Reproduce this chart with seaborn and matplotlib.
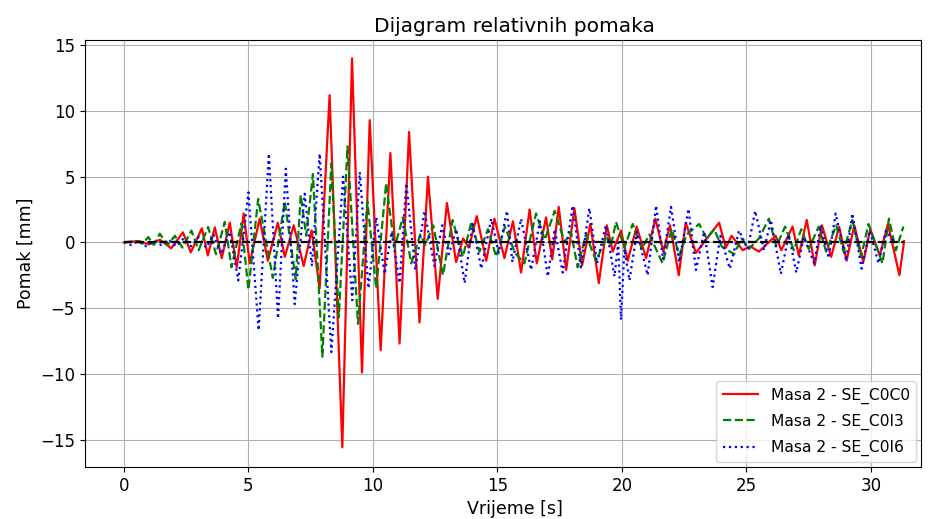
import matplotlib
matplotlib.use("Agg")
import matplotlib.pyplot as plt
import seaborn as sns
import pandas as pd

# extrema (time [s], relative displacement [mm])
red_t = [0, 0.6, 1.0, 1.45, 1.9, 2.37, 2.69, 3.13, 3.37, 3.65, 3.93, 4.25, 4.53, 4.81,
         5.05, 5.45, 5.78, 6.18, 6.46, 6.82, 7.22, 7.54, 7.86, 8.26, 8.77, 9.16, 9.56,
         9.87, 10.31, 10.70, 11.07, 11.45, 11.87, 12.21, 12.60, 12.97, 13.34, 13.62,
         13.85, 14.17, 14.55, 14.88, 15.28, 15.62, 15.95, 16.29, 16.58, 16.95, 17.2,
         17.46, 17.76, 18.09, 18.40, 18.73, 19.07, 19.39, 19.63, 19.96, 20.23, 20.59,
         20.97, 21.34, 21.66, 21.93, 22.28, 22.56, 22.97, 23.9, 24.17, 24.4, 24.85,
         25.15, 25.5, 26.17, 26.4, 26.85, 27.1, 27.42, 27.74, 28.03, 28.4, 28.72,
         29.02, 29.33, 29.69, 29.97, 30.35, 30.68, 31.14, 31.33]
red_y = [0, 0.1, -0.15, 0.2, -0.45, 0.76, -0.76, 1.07, -1.0, 1.14, -1.2, 1.5, -1.9, 2.2,
         -1.6, 1.8, -1.4, 1.5, -1.1, 1.3, -1.8, 0.9, -3.5, 11.2, -15.6, 14.0, -9.9,
         9.3, -8.2, 6.8, -7.7, 8.4, -6.1, 5.0, -4.3, 3.0, -1.5, 0.3,
         -0.4, 2.0, -1.4, 1.8, -1.2, 1.6, -2.3, 2.5, -1.6, 1.9, -1.3,
         2.7, -2.1, 2.6, -1.75, 1.4, -3.1, 1.3, -0.7, 0.9, -1.4, 1.2,
         -1.2, 1.8, -0.7, 1.3, -2.5, 1.5, -0.8, 1.5, -0.4, 0.5, -0.6,
         -0.3, -0.7, 0.5, -0.6, 1.2, -1.0, 1.7, -1.75, 1.3, -1.1, 1.2,
         -1.4, 1.3, -1.5, 1.0, -1.0, 1.4, -2.5, 0.1]

green_t = [0, 0.5, 0.75, 0.98, 1.2, 1.44, 1.75, 2.05, 2.35, 2.71, 3.0, 3.38, 3.7, 4.05,
           4.32, 4.72, 5.0, 5.39, 5.98, 6.46, 6.9, 7.1, 7.32, 7.59, 7.97, 8.33, 8.63,
           8.98, 9.4, 9.78, 10.13, 10.53, 10.87, 11.2, 11.54, 11.9, 12.1, 12.42, 12.81,
           13.2, 13.61, 13.95, 14.28, 14.62, 14.95, 15.3, 15.7, 16.08, 16.55, 16.9,
           17.3, 17.7, 17.95, 18.22, 18.55, 18.96, 19.4, 19.55, 19.76, 20.1, 20.43,
           20.8, 21.1, 21.63, 22.0, 22.3, 22.6, 23.1, 23.4, 23.7, 24.0, 24.5, 24.8,
           25.1, 25.5, 25.9, 26.2, 26.55, 26.9, 27.2, 27.5, 27.9, 28.2, 28.6, 28.9,
           29.25, 29.6, 29.9, 30.46, 30.72, 31.0, 31.3]
green_y = [0, 0.1, -0.1, 0.4, -0.2, 0.66, -0.2, 0.5, -0.4, 0.9, -0.6, 1.17, -0.9, 1.55,
           -1.9, 1.45, -3.6, 3.3, -2.7, 3.1, -2.8, 3.6, 0.5, 5.2, -8.7, 6.0, -5.7,
           7.3, -6.2, 3.1, -3.5, 4.5, -0.4, 1.9, -1.6, 0.6, -0.2, 1.3, -2.5,
           1.7, -1.1, 1.55, -0.7, 1.0, -1.1, 1.2, -0.8, -1.6, 2.2, 0.2,
           2.4, 0.0, 0.8, -1.9, 0.6, -1.4, 0.5, -0.3, 1.55, -0.4, 1.4,
           -0.5, 0.6, -1.6, 1.0, -1.0, 0.6, 1.4, 0.3, 1.0, -0.3, -0.9, 0.3,
           -0.5, 0.3, 1.8, -0.3, 1.2, -0.6, 1.0, -0.5, 1.2, -0.7, 1.3, -0.7,
           1.7, -1.1, 1.4, -1.6, 1.8, -0.6, 1.2]

blue_t = [0, 0.3, 0.6, 0.9, 1.2, 1.5, 1.8, 2.1, 2.4, 2.7, 3.0, 3.3, 3.6, 3.9, 4.25,
          4.59, 5.0, 5.41, 5.82, 6.19, 6.5, 6.86, 7.26, 7.55, 7.86, 8.33, 8.8, 9.17,
          9.47, 9.82, 10.13, 10.47, 10.75, 11.07, 11.34, 11.7, 12.07, 12.47, 12.78,
          13.05, 13.35, 13.68, 14.0, 14.35, 14.75, 15.05, 15.38, 15.6, 15.95, 16.35,
          16.7, 17.02, 17.3, 17.62, 18.02, 18.35, 18.69, 19.0, 19.35, 19.7, 19.85,
          19.96, 20.1, 20.3, 20.6, 21.03, 21.37, 21.65, 21.97, 22.3, 22.67, 22.97,
          23.3, 23.64, 23.95, 24.33, 24.7, 25.05, 25.35, 25.7, 25.98, 26.38, 26.7,
          27.0, 27.3, 27.72, 27.98, 28.3, 28.58, 29.0, 29.25, 29.62, 29.95, 30.3,
          30.6, 30.9]
blue_y = [0, -0.2, 0.1, -0.3, 0.1, -0.2, 0.2, -0.3, 0.3, -0.3, 0.4, -0.4, 0.6, -0.9, 0.8,
          -2.9, 3.8, -6.7, 6.75, -5.8, 5.6, -4.7, 3.7, -1.8, 6.75, -8.35, 5.0, -4.4,
          5.35, -3.5, 1.9, -2.4, 0.8, -3.1, 4.5, -2.1, 2.4, -1.8, 1.3,
          -0.9, 1.0, -3.1, 1.4, -2.0, 1.8, -0.8, 2.4, -1.5, 1.8, -2.1,
          1.6, -2.6, 1.0, -2.3, 2.8, -1.9, 2.6, -1.6, 1.3, -2.6, 0.0,
          -5.9, -0.5, -2.9, 0.8, -2.5, 2.8, -1.3, 2.7, -1.5, 2.55, -2.1,
          0.8, -3.4, 0.5, -2.0, 0.9, -0.5, 2.4, -0.6, 1.7, -2.4, 0.6,
          -2.3, 0.4, -1.6, 1.3, -1.2, 2.2, -1.4, 2.2, -2.0, 0.9, -1.6,
          0.9, 0.1]

zero_t = [0, 31.33]
zero_y = [0, 0]

series_labels = ["Masa 2 - SE_C0C0", "Masa 2 - SE_C0I3", "Masa 2 - SE_C0I6"]

df_red = pd.DataFrame({"t": red_t, "u": red_y})
df_green = pd.DataFrame({"t": green_t, "u": green_y})
df_blue = pd.DataFrame({"t": blue_t, "u": blue_y})

fig = plt.figure(figsize=(9.32, 5.19), dpi=100)
ax = fig.add_axes([0.091, 0.100, 0.897, 0.823])

sns.lineplot(data=df_red, x="t", y="u", ax=ax, color="r", linestyle="-",
             linewidth=1.6, label=series_labels[0], estimator=None)
sns.lineplot(data=df_green, x="t", y="u", ax=ax, color="g", linestyle="--",
             linewidth=1.6, label=series_labels[1], estimator=None)
sns.lineplot(data=df_blue, x="t", y="u", ax=ax, color="b", linestyle=":",
             linewidth=1.6, label=series_labels[2], estimator=None)
# zero reference line, drawn on top, not in legend
sns.lineplot(x=zero_t, y=zero_y, ax=ax, color="k", linestyle="--",
             linewidth=1.6, estimator=None, legend=False)

ax.set_xlim(-1.57, 32.0)
ax.set_ylim(-17.1, 15.4)
ax.set_xticks([0, 5, 10, 15, 20, 25, 30])
ax.set_yticks([-15, -10, -5, 0, 5, 10, 15])
ax.tick_params(labelsize=12)
ax.grid(True)
ax.set_title("Dijagram relativnih pomaka", fontsize=14.5, x=0.514)
ax.set_xlabel("Vrijeme [s]", fontsize=12.5, x=0.514)
ax.set_ylabel("Pomak [mm]", fontsize=12.5)
ax.legend(loc="lower right", fontsize=11.2, labelspacing=0.65, handlelength=2.3,
          borderaxespad=0.3)

fig.savefig("out.png", dpi=100)
